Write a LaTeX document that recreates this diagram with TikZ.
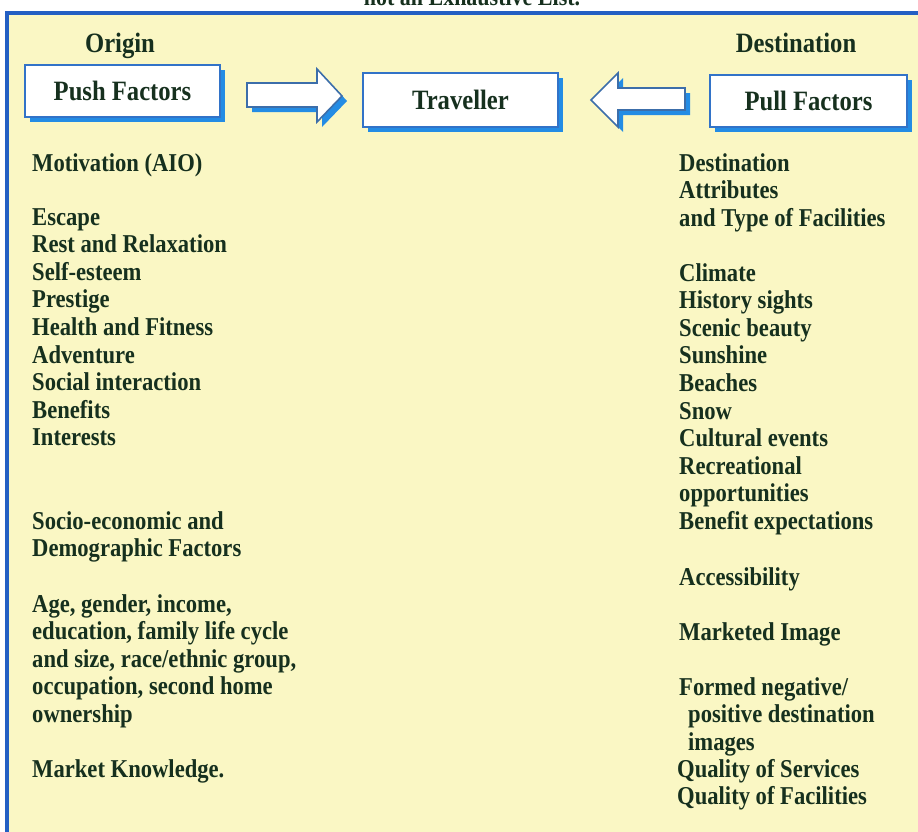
\documentclass[tikz,border=0pt]{standalone}
\usepackage{fontspec}
\setmainfont{Liberation Serif}[FakeStretch=0.88]
\usetikzlibrary{shadows}
\definecolor{bg}{RGB}{250,247,196}
\definecolor{frame}{RGB}{35,95,195}
\definecolor{shadowc}{RGB}{35,140,228}
\definecolor{boxline}{RGB}{50,115,200}
\definecolor{arrline}{RGB}{60,110,170}
\definecolor{ink}{RGB}{22,48,30}
\begin{document}
\begin{tikzpicture}[x=1pt,y=-1pt,
  txt/.style={anchor=base west, inner sep=0pt, align=left,
    font=\fontsize{25.7}{27.6}\selectfont\bfseries, text=ink},
  hdr/.style={anchor=base, inner sep=0pt,
    font=\fontsize{28}{30}\selectfont\bfseries, text=ink},
  fbox/.style={draw=boxline, line width=1.6pt, fill=white, inner sep=0pt,
    font=\fontsize{28}{30}\selectfont\bfseries, text=ink,
    general shadow={fill=shadowc, shadow xshift=5pt, shadow yshift=-5pt}},
  barrow/.style={draw=arrline, line width=1.6pt, fill=white, line join=miter}
]
\useasboundingbox (0,0) rectangle (918,831);
\clip (0,0) rectangle (918,831);
% panel
\fill[bg] (6,13) rectangle (930,840);
\draw[frame, line width=4pt] (7,845) -- (7,13) -- (930,13);
% cut-off title
\node[hdr, font=\fontsize{25}{27}\selectfont\bfseries] (title) at (472,5) {not an Exhaustive List.};
% headings
\node[hdr] (origin) at (120,52) {Origin};
\node[hdr] (dest) at (796,52) {Destination};
% boxes
\node[fbox, minimum width=195pt, minimum height=52pt] (push) at (122.5,91) {Push Factors};
\node[fbox, minimum width=195pt, minimum height=54pt] (trav) at (460.5,100) {Traveller};
\node[fbox, minimum width=197pt, minimum height=52pt] (pull) at (808.5,101) {Pull Factors};
% block arrows (shadow then body)
\fill[shadowc] (252,88) -- (322,88) -- (322,74) -- (347,101) -- (322,127) -- (322,112) -- (252,112) -- cycle;
\path[barrow] (247,83) -- (317,83) -- (317,69) -- (342,96) -- (317,122) -- (317,107) -- (247,107) -- cycle;
\fill[shadowc] (690,93) -- (623,93) -- (623,78) -- (596,105) -- (623,132) -- (623,115) -- (690,115) -- cycle;
\path[barrow] (685,88) -- (618,88) -- (618,73) -- (591,100) -- (618,127) -- (618,110) -- (685,110) -- cycle;
% left column (anchor = baseline of the last line)
\node[txt] (l1) at (32,171) {Motivation (AIO)};
\node[txt] (l2) at (32,445.8) {Escape\\Rest and Relaxation\\Self-esteem\\Prestige\\Health and Fitness\\Adventure\\Social interaction\\Benefits\\Interests};
\node[txt] (l3) at (32,556.6) {Socio-economic and\\Demographic Factors};
\node[txt] (l4) at (32,722.4) {Age, gender, income,\\education, family life cycle\\and size, race/ethnic group,\\occupation, second home\\ownership};
\node[txt] (l5) at (32,777) {Market Knowledge.};
% right column
\node[txt] (r1) at (679,226.2) {Destination\\Attributes\\and Type of Facilities};
\node[txt] (r2) at (679,529.4) {Climate\\History sights\\Scenic beauty\\Sunshine\\Beaches\\Snow\\Cultural events\\Recreational\\opportunities\\Benefit expectations};
\node[txt] (r3) at (679,585) {Accessibility};
\node[txt] (r4) at (679,640) {Marketed Image};
\node[txt] (r5) at (679,750.2) {Formed negative/\\\hspace*{9pt}positive destination\\\hspace*{9pt}images};
\node[txt] (r6) at (677,804.6) {Quality of Services\\Quality of Facilities};
\end{tikzpicture}
\end{document}
